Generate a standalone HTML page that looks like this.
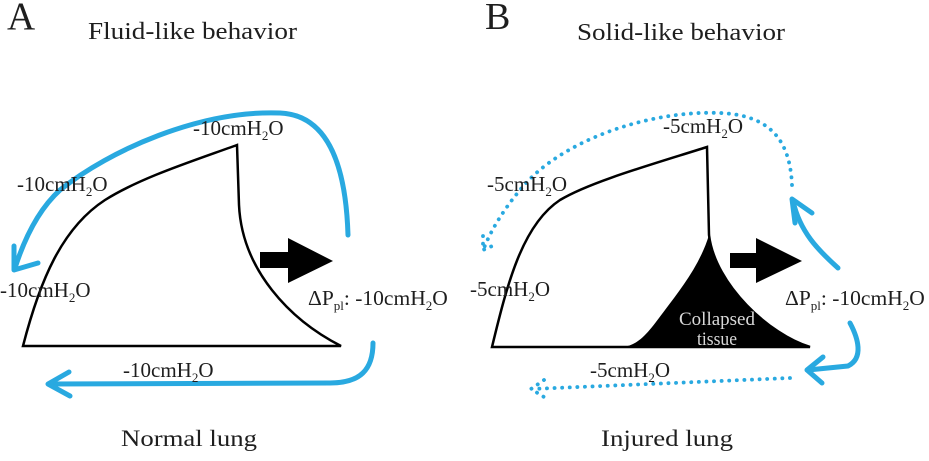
<!DOCTYPE html>
<html>
<head>
<meta charset="utf-8">
<style>
  html,body{margin:0;padding:0;background:#fff;}
  svg{display:block;}
  text{font-family:"Liberation Serif","DejaVu Serif",serif;fill:#1e1e1e;}
</style>
</head>
<body>
<svg width="929" height="461" viewBox="0 0 929 461" xmlns="http://www.w3.org/2000/svg">
  <!-- Titles -->
  <text x="7" y="29" font-size="39">A</text>
  <text x="88" y="39" font-size="24" textLength="209" lengthAdjust="spacingAndGlyphs">Fluid-like behavior</text>
  <text x="485" y="29" font-size="38">B</text>
  <text x="577" y="40" font-size="24" textLength="208" lengthAdjust="spacingAndGlyphs">Solid-like behavior</text>
  <text x="121" y="446" font-size="23" textLength="136" lengthAdjust="spacingAndGlyphs">Normal lung</text>
  <text x="601" y="446" font-size="23" textLength="132" lengthAdjust="spacingAndGlyphs">Injured lung</text>

  <!-- ========== Panel A ========== -->
  <g fill="none" stroke="#29a9e0" stroke-width="5" stroke-linecap="round" stroke-linejoin="round">
    <path d="M348,235 C346,170 330,115 280,113 C200,110 110,150 60,190 C38,210 24,240 15,268"/>
    <path d="M14,246 L14,270 L38,263"/>
    <path d="M373,343 C373,370 360,383 330,383 L49,384"/>
    <path d="M69,372 L48,384 L70,396"/>
  </g>
  <path d="M23,346 C40,280 62,228 105,200 C140,178 190,162 237,145 L239,205 C242,270 290,320 341,346 Z" fill="none" stroke="#000" stroke-width="2.5" stroke-linejoin="miter"/>
  <path d="M260,252 L288,252 L288,238 L333,261 L288,283 L288,268 L260,268 Z" fill="#000"/>

  <text x="193" y="135" font-size="21">-10cmH<tspan font-size="13" dy="5">2</tspan><tspan dy="-5">O</tspan></text>
  <text x="17" y="191" font-size="21">-10cmH<tspan font-size="13" dy="5">2</tspan><tspan dy="-5">O</tspan></text>
  <text x="0" y="297" font-size="21">-10cmH<tspan font-size="13" dy="5">2</tspan><tspan dy="-5">O</tspan></text>
  <text x="308" y="305" font-size="21.5">ΔP<tspan font-size="13" dy="5">pl</tspan><tspan dy="-5">: -10cmH</tspan><tspan font-size="13" dy="5">2</tspan><tspan dy="-5">O</tspan></text>
  <text x="123" y="377" font-size="21">-10cmH<tspan font-size="13" dy="5">2</tspan><tspan dy="-5">O</tspan></text>

  <!-- ========== Panel B ========== -->
  <path d="M709,235 C715,285 770,335 810,347 L623,347 C640,345 650,330 665,310 C680,290 700,265 709,235 Z" fill="#000"/>
  <path d="M492,347 C507,285 522,225 560,200 C590,182 650,165 707,147 L709,235 C715,285 770,335 810,347 Z" fill="none" stroke="#000" stroke-width="2.5" stroke-linejoin="miter"/>
  <path d="M730,253 L756,253 L756,238 L802,261 L756,283 L756,268 L730,268 Z" fill="#000"/>

  <g fill="none" stroke="#29a9e0" stroke-width="3.8" stroke-linecap="round" stroke-dasharray="0.1 7.5">
    <path d="M792,185 C790,140 770,115 720,113 C650,110 560,140 520,190 C505,208 492,228 484,248"/>
    <path d="M483,236 L483,250 L497,244"/>
    <path d="M790,378 L532,389"/>
    <path d="M544,380 L531,389 L544,397"/>
  </g>
  <g fill="none" stroke="#29a9e0" stroke-width="5" stroke-linecap="round" stroke-linejoin="round">
    <path d="M838,268 C818,250 800,232 793,201"/>
    <path d="M795,223 L792,199 L812,213"/>
    <path d="M850,323 C858,338 864,358 848,366 L808,370"/>
    <path d="M823,357 L807,370 L822,383"/>
  </g>

  <text x="663" y="133" font-size="21">-5cmH<tspan font-size="13" dy="5">2</tspan><tspan dy="-5">O</tspan></text>
  <text x="487" y="191" font-size="21">-5cmH<tspan font-size="13" dy="5">2</tspan><tspan dy="-5">O</tspan></text>
  <text x="470" y="296" font-size="21">-5cmH<tspan font-size="13" dy="5">2</tspan><tspan dy="-5">O</tspan></text>
  <text x="785" y="305" font-size="21.5">ΔP<tspan font-size="13" dy="5">pl</tspan><tspan dy="-5">: -10cmH</tspan><tspan font-size="13" dy="5">2</tspan><tspan dy="-5">O</tspan></text>
  <text x="590" y="377" font-size="21">-5cmH<tspan font-size="13" dy="5">2</tspan><tspan dy="-5">O</tspan></text>

  <text x="679" y="325" font-size="19" style="fill:#d9d9d9" textLength="76" lengthAdjust="spacingAndGlyphs">Collapsed</text>
  <text x="697" y="345" font-size="19" style="fill:#d9d9d9" textLength="40" lengthAdjust="spacingAndGlyphs">tissue</text>
</svg>
</body>
</html>
